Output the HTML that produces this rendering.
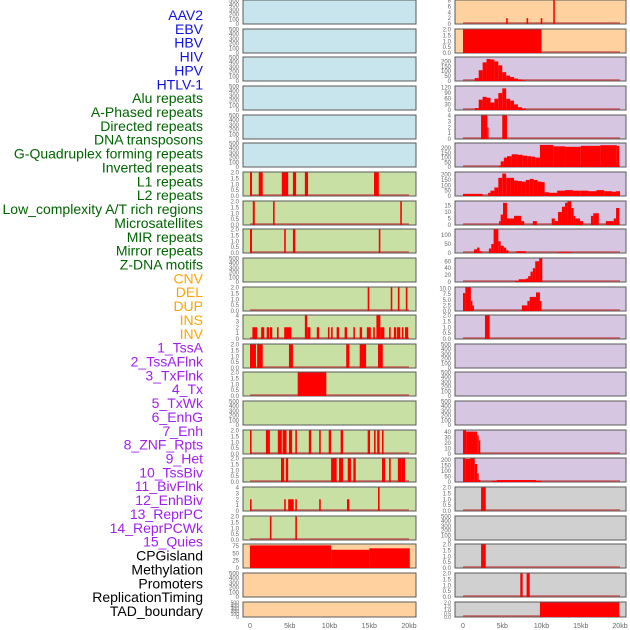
<!DOCTYPE html>
<html><head><meta charset="utf-8"><style>
body{margin:0;background:#fff;width:630px;height:630px;overflow:hidden}
svg{display:block}
</style></head><body>
<svg id="c" width="630" height="630" xmlns="http://www.w3.org/2000/svg"></svg>
<script>
const labels=["AAV2","EBV","HBV","HIV","HPV","HTLV-1","Alu repeats","A-Phased repeats","Directed repeats","DNA transposons","G-Quadruplex forming repeats","Inverted repeats","L1 repeats","L2 repeats","Low_complexity A/T rich regions","Microsatellites","MIR repeats","Mirror repeats","Z-DNA motifs","CNV","DEL","DUP","INS","INV","1_TssA","2_TssAFlnk","3_TxFlnk","4_Tx","5_TxWk","6_EnhG","7_Enh","8_ZNF_Rpts","9_Het","10_TssBiv","11_BivFlnk","12_EnhBiv","13_ReprPC","14_ReprPCWk","15_Quies","CPGisland","Methylation","Promoters","ReplicationTiming","TAD_boundary"];
const labelColors=[...Array(6).fill("#1010e0"),...Array(13).fill("#006400"),...Array(5).fill("#ffa500"),...Array(15).fill("#a020f0"),...Array(5).fill("#000")];
const xTicks=[0,5,10,15,20];
const xTickLabels=["0","5kb","10kb","15kb","20kb"];
const T500=[0,100,200,300,400,500], T2=[0,0.5,1,1.5,2], T4=[0,1,2,3,4];
const leftBg=["#c8e4ec","#c8e4ec","#c8e4ec","#c8e4ec","#c8e4ec","#c8e4ec","#c8e0a4","#c8e0a4","#c8e0a4","#c8e0a4","#c8e0a4","#c8e0a4","#c8e0a4","#c8e0a4","#c8e0a4","#c8e0a4","#c8e0a4","#c8e0a4","#c8e0a4","#ffd19e","#ffd19e","#ffd19e"];
const rightBg=["#ffd19e","#ffd19e","#d6c6e2","#d6c6e2","#d6c6e2","#d6c6e2","#d6c6e2","#d6c6e2","#d6c6e2","#d6c6e2","#d6c6e2","#d6c6e2","#d6c6e2","#d6c6e2","#d6c6e2","#d6c6e2","#d6c6e2","#d0d0d0","#d0d0d0","#d0d0d0","#d0d0d0","#d0d0d0"];
const leftYmax=[500,500,500,500,500,500,2,2,2,500,2,4,2,2,500,2,2,4,2,80,500,500];
const leftTicks=[T500,T500,T500,T500,T500,T500,T2,T2,T2,T500,T2,T4,T2,T2,T500,T2,T2,T4,T2,[0,25,50,75],T500,T500];
const rightYmax=[8,2,240,125,4,250,220,18,130,68,10.5,2,500,500,500,43,215,2,500,2,2,2];
const rightTicks=[[0,2,4,6,8],T2,[0,50,100,150,200],[0,30,60,90,120],T4,[0,50,100,150,200],[0,50,100,150,200],[0,5,10,15],[0,50,100],[0,20,40,60],[0,2.5,5,7.5,10],T2,T500,T500,T500,[0,10,20,30,40],[0,50,100,150,200],T2,T500,T2,T2,T2];
const leftSegs=[[],[],[],[],[],[],
[[0,0.25,2],[1.1,1.6,2],[4,4.8,2],[5.4,5.8,2],[6.9,7.3,2],[15.6,16.2,2]],
[[0.35,0.6,2],[2.9,3.1,2],[18.9,19.1,2]],
[[0,0.25,2],[4.3,4.5,2],[5.4,5.7,2],[16.2,16.4,2]],
[],
[[14.8,15,2],[17.7,17.9,2],[18.6,18.8,2],[19.6,19.8,2]],
[[0.3,0.9,2],[1.4,1.8,2],[2.1,2.4,2],[2.5,2.8,2],[3.4,3.6,2],[4.3,5.2,2],[6.9,7.2,4],[7.2,7.6,2],[8.4,8.7,2],[9.8,10,2],[10.2,10.4,2],[10.9,11.2,2],[11.9,12.2,2],[13,13.2,2],[13.8,14.1,2],[14.7,15.2,2],[15.5,15.7,2],[15.9,16.4,4],[16.4,16.6,2],[16.6,16.9,2],[17.5,17.7,2],[18.1,18.4,2],[18.5,18.9,2],[19.1,19.3,2],[19.5,19.9,2]],
[[0,0.75,2],[0.9,1.6,2],[4.9,5.4,2],[12.1,12.5,2],[13.8,14.6,2],[16.1,16.7,2]],
[[6,9.6,2]],
[],
[[0,0.2,2],[2,2.5,2],[3.5,4,2],[4.1,4.6,2],[4.9,5.3,2],[5.7,5.9,2],[7.4,7.7,2],[8.7,8.9,2],[9.9,10.2,2],[11.4,11.7,2],[14.8,15.1,2],[15.6,15.8,2],[16,16.3,2],[16.6,16.8,2]],
[[3.9,4.3,2],[4.5,4.8,2],[10.2,10.9,2],[11.2,11.7,2],[12.3,12.7,2],[13,13.3,2],[16.6,17,2],[17.5,17.7,2],[18.6,19.1,2],[19.1,19.5,2]],
[[0,0.2,2],[4.3,4.5,2],[4.8,5.5,2],[5.7,5.9,2],[8.7,8.9,2],[12.2,12.5,2],[16.1,16.3,4]],
[[2.5,2.7,2],[5.7,5.9,2]],
[[0,10.2,77],[10.2,15,62],[15,20.1,67]],
[],[]];
const rightSegs=[
[[5.5,5.7,2],[8.1,8.3,2],[9.9,10.1,2],[11.5,11.7,8]],
[[0,10,2]],
[[1.5,2,30],[2,2.5,110],[2.5,3,190],[3,3.5,225],[3.5,4,220],[4,4.5,200],[4.5,5,160],[5,5.5,90],[5.5,6,55],[6,6.5,40],[6.5,7,25],[7,7.5,15],[7.5,8,8]],
[[1.5,2,10],[2,2.5,55],[2.5,3,70],[3,3.5,65],[3.5,4,40],[4,4.5,60],[4.5,5,90],[5,5.5,115],[5.5,6,60],[6,6.5,50],[6.5,7,30],[7,7.5,15],[7.5,8,8]],
[[2.3,3.1,4],[3.1,3.2,2],[5,5.6,4]],
[[4.5,4.8,10],[4.8,5.2,60],[5.2,5.6,100],[5.6,6.2,115],[6.2,7,135],[7,7.6,130],[7.6,8.2,120],[8.2,8.7,115],[8.7,9.2,110],[9.2,9.8,100],[9.8,11.5,235],[11.5,13,220],[13,15,215],[15,17.5,225],[17.5,19.6,232],[19.6,19.9,225]],
[[0,2.5,20],[3.2,3.5,30],[3.5,4,50],[4,4.5,80],[4.5,5,170],[5,5.5,210],[5.5,6,170],[6,6.5,170],[6.5,7,145],[7,7.5,140],[7.5,8,135],[8,8.5,150],[8.5,9,160],[9,9.5,150],[9.5,10,135],[10,10.4,130],[10.4,11,35],[11,12,30],[12,13,50],[13,14,55],[14,15,50],[15,16,50],[16,17,45],[17,18,55],[18,19,45],[19,19.5,40],[19.5,20,45]],
[[4.6,4.8,3],[4.8,5.1,8],[5.1,5.6,17],[5.6,6.5,5],[6.5,7.4,7],[7.4,7.8,3],[8.9,9.4,3],[11.3,11.7,5],[11.7,12.1,3],[12.1,12.6,10],[12.6,13,14],[13,13.3,17],[13.3,13.8,18],[13.8,14.1,13],[14.1,14.3,7],[14.3,14.9,5],[14.9,15.3,3],[16.3,16.6,7],[16.6,17.3,9],[18.2,19.2,3],[19.2,19.5,5],[19.5,19.9,13]],
[[1.4,1.8,20],[1.8,2.1,30],[2.1,2.4,10],[3.3,3.6,25],[3.6,3.9,50],[3.9,4.5,130],[4.5,4.8,65],[4.8,5.2,40],[5.2,5.5,30],[5.5,5.8,15],[6.8,8,10],[12.1,13.9,4]],
[[6.7,7.1,3],[7.1,8,8],[8,8.3,10],[8.3,8.6,17],[8.6,8.9,30],[8.9,9.2,40],[9.2,9.7,60],[9.7,10.1,68]],
[[0,0.3,8],[0.3,1,10.5],[1,1.2,4.5],[1.2,1.4,2.5],[7.5,8.2,2.5],[8.2,8.5,4.5],[8.5,9.3,6.3],[9.3,9.8,8.3],[9.8,10,4.5]],
[[2.8,3.4,2]],
[],[],[],
[[0,0.4,43],[0.4,1.8,41],[1.8,2,34],[2,2.2,25]],
[[0,0.3,215],[0.3,0.9,210],[0.9,1.5,215],[1.5,1.8,165],[1.8,2,80],[2,2.2,20],[3.7,4.3,10],[4.3,9.3,18],[9.3,10,10]],
[[2.3,2.9,2]],
[],
[[2.3,2.9,2]],
[[7.3,7.6,2],[8.1,8.5,2]],
[[9.8,19.9,2]]];

const NS="http://www.w3.org/2000/svg";
const svg=document.getElementById("c");
function mk(t,a,p){const e=document.createElementNS(NS,t);for(const k in a)e.setAttribute(k,a[k]);(p||svg).appendChild(e);return e;}
const panelTop=i=>Math.round(i*28.65);
const panelH=i=>i===21?15:24;
const xL=kb=>250+kb*7.95;
const xR=kb=>463+kb*7.85;
const fmt=(v,tk)=>{const dec=tk.some(t=>t%1!==0);return dec?v.toFixed(1):String(v);};

// labels
labels.forEach((s,i)=>{
  const t=mk("text",{x:203,y:20+i*13.86,"text-anchor":"end","font-size":"14","font-family":"Liberation Sans, sans-serif",fill:labelColors[i]});
  t.textContent=s;
  
  
});

function drawCol(bg,ymax,ticks,segs,x0,w,xf,tickX,side){
  for(let i=0;i<22;i++){
    const top=panelTop(i),h=panelH(i),bot=top+h;
    const g=mk("g",{});
    
    
    mk("rect",{x:x0,y:top,width:w,height:h,fill:bg[i],stroke:"#5a5a5a","stroke-width":1},g);
    const yf=v=>bot-Math.min(v,ymax[i])/ymax[i]*(h-0.5);
    ticks[i].forEach(v=>{
      const tt=mk("text",{x:tickX,y:yf(v)+2,"text-anchor":"end","font-size":h<20?"5":"6","font-family":"Liberation Sans, sans-serif",fill:"#666"},g);
      tt.textContent=fmt(v,ticks[i]);
      
      
    });
    if(segs[i].length){
      mk("line",{x1:xf(0),x2:xf(20),y1:bot-1,y2:bot-1,stroke:"#c04040","stroke-width":1.5,opacity:0.8},g);
      segs[i].forEach(s=>{
        const b=mk("rect",{x:xf(s[0]),y:yf(s[2]),width:Math.max(1.2,xf(s[1])-xf(s[0])),height:bot-yf(s[2]),fill:"#ff0000"},g);
        
        
      });
    }
  }
  xTicks.forEach((v,k)=>{
    const t=mk("text",{x:xf(v),y:628,"text-anchor":"middle","font-size":"7","font-family":"Liberation Sans, sans-serif",fill:"#666"});
    t.textContent=xTickLabels[k];
    
    
  });
}
drawCol(leftBg,leftYmax,leftTicks,leftSegs,243,173,xL,239,'left');
drawCol(rightBg,rightYmax,rightTicks,rightSegs,455,171,xR,451,'right');
</script>
</body></html>
